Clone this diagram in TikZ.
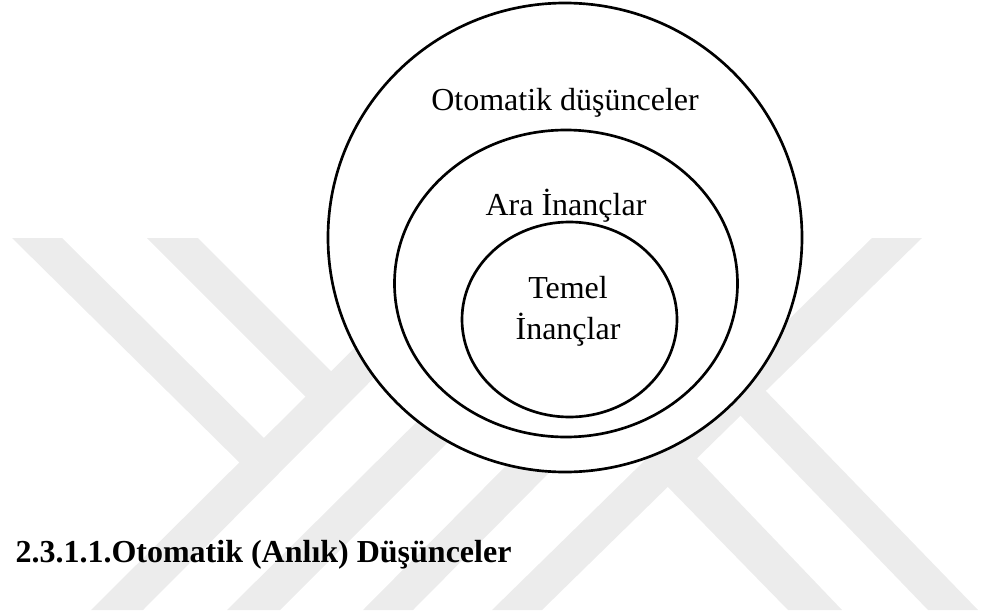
\documentclass[tikz,border=0pt]{standalone}
\usepackage{fontspec}
\setmainfont{Liberation Serif}
\usetikzlibrary{shapes.geometric}
\definecolor{markgray}{RGB}{236,236,236}
\tikzset{every picture/.style={line width=0.75pt},
  ring/.style={draw,ellipse,line width=2pt,fill=white,inner sep=0pt},
  band/.style={fill=markgray,draw=none},
  label/.style={inner sep=0.75pt,anchor=base,font=\fontsize{24}{30}\selectfont}}

\begin{document}
\begin{tikzpicture}[x=0.75pt,y=0.75pt,yscale=-1,xscale=1]
\useasboundingbox (0,0) rectangle (985,614);

%Back mark, left arms
\fill [band] (12,238) -- (62,238) -- (268,442) -- (245,468) -- cycle ;
\fill [band] (147,238) -- (198,238) -- (338,378) -- (312,403) -- cycle ;
%Back mark, rising arms
\fill [band] (91,610) -- (143,610) -- (500,251) -- (465,238) -- cycle ;
\fill [band] (227,610) -- (280,610) -- (640,250) -- (590,250) -- cycle ;
\fill [band] (363,610) -- (413,610) -- (770,250) -- (720,250) -- cycle ;
\fill [band] (492,610) -- (542,610) -- (922,238) -- (872,238) -- cycle ;
%Back mark, right arms
\fill [band] (663,482) -- (692,453) -- (842,610) -- (788,610) -- cycle ;
\fill [band] (737,412) -- (762,387) -- (978,610) -- (928,610) -- cycle ;

%Rings
\node (outer) [ring,minimum width=474pt*0.75,minimum height=469pt*0.75] at (565,237.5) {};
\node (middle) [ring,minimum width=343pt*0.75,minimum height=307pt*0.75] at (566,283.5) {};
\node (inner) [ring,minimum width=215pt*0.75,minimum height=195pt*0.75] at (569.5,319.5) {};

% Text Node
\node (auto) [label] at (565,110.7) {Otomatik düşünceler};
% Text Node
\node (mid) [label] at (566,215) {Ara İnançlar};
% Text Node
\node (core) [label] at (568,298) {Temel};
% Text Node
\node (belief) [label] at (568,339) {İnançlar};
% Text Node
\node (head) [label,anchor=base west,font=\fontsize{24}{30}\selectfont\bfseries] at (14,562) {2.3.1.1.Otomatik (Anlık) Düşünceler};

\end{tikzpicture}
\end{document}
